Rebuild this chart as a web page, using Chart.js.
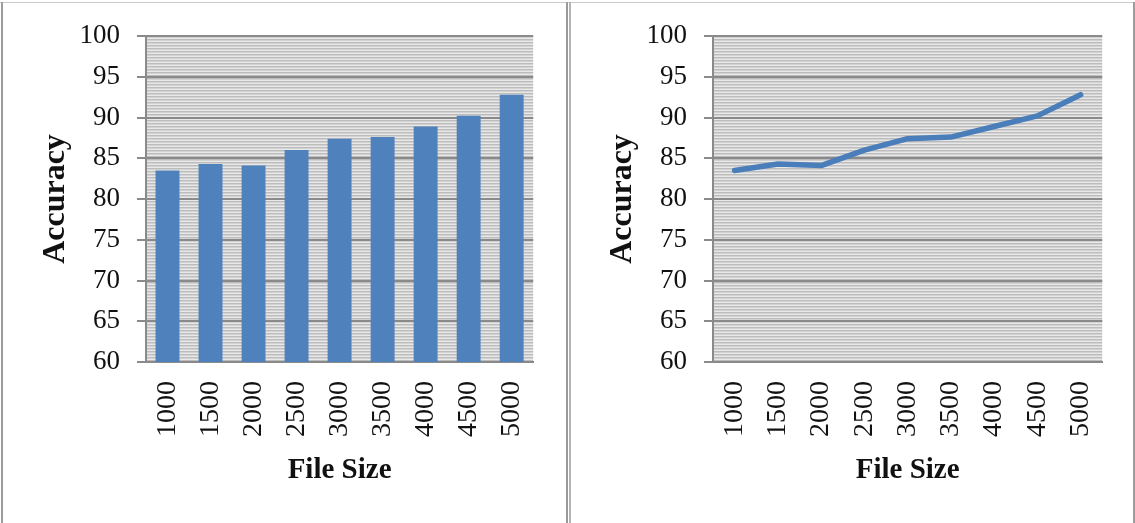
<!DOCTYPE html>
<html>
<head>
<meta charset="utf-8">
<script src="https://cdn.jsdelivr.net/npm/chart.js@4/dist/chart.umd.min.js"></script>
<style>
  html, body { margin: 0; padding: 0; background: #ffffff; }
  #stage { position: relative; width: 1135px; height: 523px; overflow: hidden; background: #fff; }
  .panel { position: absolute; top: 0; height: 523px; }
  .rule { position: absolute; }
</style>
</head>
<body>
<div id="stage">
  <div class="panel" style="left:0;width:566px;"><canvas id="barChart" width="566" height="523"></canvas></div>
  <div class="panel" style="left:567px;width:568px;"><canvas id="lineChart" width="568" height="523"></canvas></div>
  <!-- panel frames -->
  <div class="rule" style="left:0;top:2px;width:1135px;height:1px;background:#c9c9c9;"></div>
  <div class="rule" style="left:1px;top:2px;width:2px;height:521px;background:#9c9c9c;"></div>
  <div class="rule" style="left:566px;top:2px;width:2px;height:521px;background:#9a9a9a;"></div>
  <div class="rule" style="left:569px;top:2px;width:2px;height:521px;background:#b4b4b4;"></div>
  <div class="rule" style="left:1133px;top:2px;width:2px;height:521px;background:#9c9c9c;"></div>
</div>
<script>
// File sizes tested and the accuracy reached for each
const fileSizes = ['1000', '1500', '2000', '2500', '3000', '3500', '4000', '4500', '5000'];
const barAccuracy = [83.5, 84.3, 84.1, 86.0, 87.4, 87.6, 88.9, 90.2, 92.8];
const lineAccuracy = [83.5, 84.3, 84.1, 86.0, 87.4, 87.6, 88.9, 90.2, 92.8];
const yTicks = [60, 65, 70, 75, 80, 85, 90, 95, 100];

const SERIF = '"Liberation Serif", "Times New Roman", serif';
const GRID = '#8a8a8a';

// Narrow horizontal stripe fill for the plot area
function stripePattern(ctx) {
  const c = document.createElement('canvas');
  c.width = 4; c.height = 3;
  const p = c.getContext('2d');
  const rows = ['#bcbcbc', '#d2d2d2', '#e8e8e8'];
  rows.forEach((col, i) => { p.fillStyle = col; p.fillRect(0, i, 4, 1); });
  return ctx.createPattern(c, 'repeat');
}

const plotFill = {
  id: 'plotFill',
  beforeDraw(chart) {
    const { ctx, chartArea: a } = chart;
    ctx.save();
    ctx.fillStyle = stripePattern(ctx);
    ctx.fillRect(a.left, a.top, a.right - a.left, a.bottom - a.top);
    ctx.restore();
  }
};

function buildOptions() {
  return {
    responsive: false,
    animation: false,
    devicePixelRatio: 1,
    layout: { padding: { top: 36, right: 31, left: 0, bottom: 0 } },
    plugins: { legend: { display: false }, tooltip: { enabled: false } },
    scales: {
      x: {
        offset: true,
        grid: { display: false, drawTicks: false },
        border: { display: true, color: GRID, width: 2 },
        ticks: {
          minRotation: 90, maxRotation: 90, padding: 19,
          color: '#111', font: { family: SERIF, size: 28 }
        },
        title: {
          display: true, text: 'File Size', color: '#111',
          font: { family: SERIF, size: 29, weight: 'bold' },
          padding: { top: 0, bottom: 35 }
        },
        afterFit(scale) { scale.height = 161; }
      },
      y: {
        min: 60, max: 100,
        afterBuildTicks(scale) { scale.ticks = yTicks.map(v => ({ value: v })); },
        grid: { color: GRID, lineWidth: 2, drawTicks: true, tickLength: 9, tickColor: GRID },
        border: { display: true, color: GRID, width: 2 },
        ticks: {
          padding: 17, color: '#111',
          font: { family: SERIF, size: 27 }
        },
        title: {
          display: true, text: 'Accuracy', color: '#111',
          font: { family: SERIF, size: 32, weight: 'bold' },
          padding: { top: 37, bottom: 0 }
        },
        afterFit(scale) { scale.width = 146; }
      }
    }
  };
}

new Chart(document.getElementById('barChart'), {
  type: 'bar',
  data: {
    labels: fileSizes,
    datasets: [{
      data: barAccuracy,
      backgroundColor: '#4f81bd',
      borderWidth: 0,
      barPercentage: 0.556,
      categoryPercentage: 1
    }]
  },
  options: buildOptions(),
  plugins: [plotFill]
});

const lineOpts = buildOptions();
lineOpts.layout.padding.right = 32;
new Chart(document.getElementById('lineChart'), {
  type: 'line',
  data: {
    labels: fileSizes,
    datasets: [{
      data: lineAccuracy,
      borderColor: '#4a7ebb',
      borderWidth: 5.5,
      borderJoinStyle: 'round',
      borderCapStyle: 'round',
      pointRadius: 0,
      tension: 0,
      fill: false
    }]
  },
  options: lineOpts,
  plugins: [plotFill]
});
</script>
</body>
</html>
